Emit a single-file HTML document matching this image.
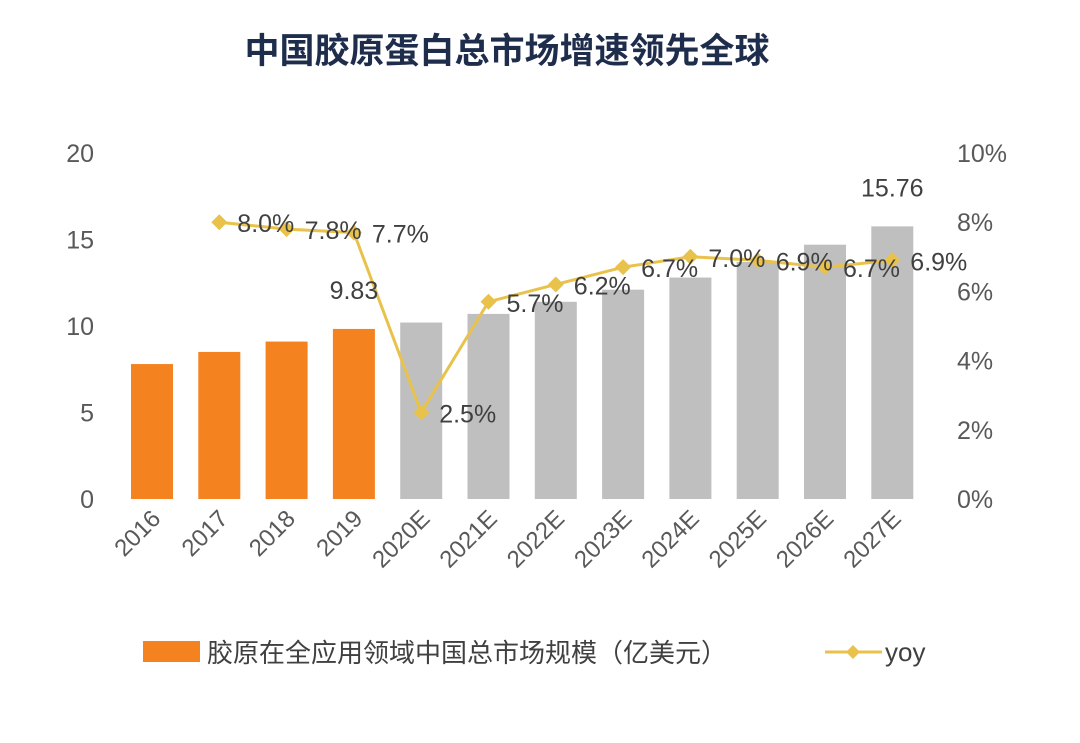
<!DOCTYPE html>
<html><head><meta charset="utf-8"><style>
body{margin:0;background:#fff;}
svg text{font-family:"Liberation Sans","Noto Sans CJK SC",sans-serif;}
</style></head><body>
<svg width="1080" height="738" viewBox="0 0 1080 738">
<text x="507" y="63" text-anchor="middle" font-size="35" font-weight="bold" fill="#1f2d4d">中国胶原蛋白总市场增速领先全球</text>
<g id="bars"></g><g id="line"></g><g id="axes"></g><g id="labels"></g>
<g>
<rect x="143" y="641" width="57" height="21" fill="#f4821f"/>
<text x="207" y="662" font-size="26" fill="#404040">胶原在全应用领域中国总市场规模（亿美元）</text>
<line x1="825" y1="652" x2="882" y2="652" stroke="#e9c24b" stroke-width="3"/>
<path d="M853 645 L860 652 L853 659 L846 652 Z" fill="#e9c24b"/>
<text x="885" y="661" font-size="26" fill="#404040">yoy</text>
</g>
</svg>
<script>
const categories=["2016","2017","2018","2019","2020E","2021E","2022E","2023E","2024E","2025E","2026E","2027E"];
const marketValues=[7.8,8.5,9.1,9.83,10.2,10.7,11.4,12.1,12.8,13.7,14.7,15.76];
const yoyValues=[null,8.0,7.8,7.7,2.5,5.7,6.2,6.7,7.0,6.9,6.7,6.9];
const yoyLabels=["","8.0%","7.8%","7.7%","2.5%","5.7%","6.2%","6.7%","7.0%","6.9%","6.7%","6.9%"];
const leftTicks=[0,5,10,15,20];
const rightTicks=[0,2,4,6,8,10];
const NS="http://www.w3.org/2000/svg";
const x0=152,step=67.3,yBase=499,yTop=153;
const xS=i=>x0+i*step;
const yL=v=>yBase-(v/20)*(yBase-yTop);
const yR=v=>yBase-(v/10)*(yBase-yTop);
function mk(tag,parent,attrs){const e=document.createElementNS(NS,tag);for(const k in attrs)e.setAttribute(k,attrs[k]);document.getElementById(parent).appendChild(e);return e;}
const axes="axes";
leftTicks.forEach(t=>{const e=mk("text",axes,{x:94,y:yL(t)+9,"text-anchor":"end","font-size":"25",fill:"#595959"});e.textContent=t;

});
rightTicks.forEach(t=>{const e=mk("text",axes,{x:957,y:yR(t)+9,"font-size":"25",fill:"#595959"});e.textContent=t+"%";

});
categories.forEach((c,i)=>{const x=xS(i)+10,y=520;const e=mk("text",axes,{x:x,y:y,"text-anchor":"end","font-size":"24",fill:"#595959",transform:`rotate(-45 ${x} ${y})`});e.textContent=c;

});
marketValues.forEach((v,i)=>{const r=mk("rect","bars",{x:xS(i)-21,y:yL(v),width:42,height:yBase-yL(v),fill:i<4?"#f4821f":"#bfbfbf"});

});
let pts=[];yoyValues.forEach((v,i)=>{if(v!==null)pts.push([xS(i),yR(v)]);});
const pl=mk("polyline","line",{points:pts.map(p=>p.join(",")).join(" "),fill:"none",stroke:"#e9c24b","stroke-width":3});


pts.forEach(p=>{const d=mk("path","line",{d:`M${p[0]} ${p[1]-8} L${p[0]+8} ${p[1]} L${p[0]} ${p[1]+8} L${p[0]-8} ${p[1]} Z`,fill:"#e9c24b"});

});
yoyValues.forEach((v,i)=>{if(v===null)return;const e=mk("text","labels",{x:xS(i)+18,y:yR(v)+10,"font-size":"25",fill:"#404040"});e.textContent=yoyLabels[i];

});
[3,11].forEach(i=>{const e=mk("text","labels",{x:xS(i),y:yL(marketValues[i])-30,"text-anchor":"middle","font-size":"25",fill:"#404040"});e.textContent=marketValues[i];

});
</script>
</body></html>
